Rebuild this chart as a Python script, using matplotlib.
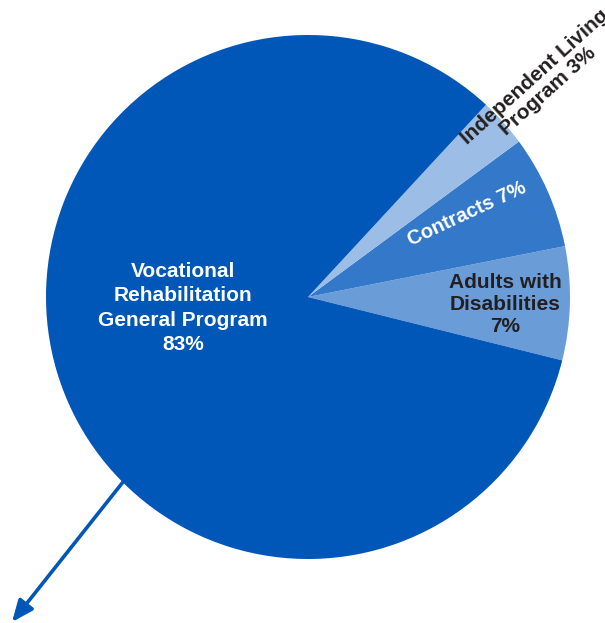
import matplotlib
matplotlib.use("Agg")
import matplotlib.pyplot as plt

# budget shares, percent
labels = ["Adults with\nDisabilities\n7%", "Contracts 7%",
          "Independent Living\nProgram 3%",
          "Vocational\nRehabilitation\nGeneral Program\n83%"]
shares = [7, 7, 3, 83]
colors = ["#6A9DD8", "#3478C9", "#9BBDE6", "#0057B8"]

plt.rcParams['font.family'] = ['Liberation Sans', 'DejaVu Sans']

W, H = 605, 623
fig = plt.figure(figsize=(W / 100, H / 100), dpi=100)
ax = fig.add_axes([0, 0, 1, 1])

cx, cy, r = 308, H - 297, 262
ax.pie(shares, colors=colors, startangle=-14, counterclock=True,
       center=(cx, cy), radius=r, frame=True,
       wedgeprops=dict(linewidth=0))
ax.set_xlim(0, W)
ax.set_ylim(0, H)
ax.set_aspect('equal')
ax.axis('off')

dark = "#231F20"
ax.text(183, H - 308, labels[3], color="white", fontsize=15, fontweight="bold",
        ha="center", va="center", linespacing=1.35)
ax.text(505, H - 305, labels[0], color=dark, fontsize=15, fontweight="bold",
        ha="center", va="center", linespacing=1.2)
ax.text(467, H - 214, labels[1], color="white", fontsize=14.5, fontweight="bold",
        ha="center", va="center", rotation=25, rotation_mode="anchor")
ax.text(541, H - 84, labels[2], color=dark, fontsize=15, fontweight="bold",
        ha="center", va="center", rotation=42, rotation_mode="anchor",
        linespacing=1.05)

# arrow out of the big slice
ax.annotate("", xy=(12, H - 622), xytext=(123, H - 482),
            arrowprops=dict(arrowstyle="-|>,head_length=1.3,head_width=0.55",
                            color="#0057B8", lw=2.6, shrinkA=0, shrinkB=0))

fig.savefig("out.png", dpi=100)
